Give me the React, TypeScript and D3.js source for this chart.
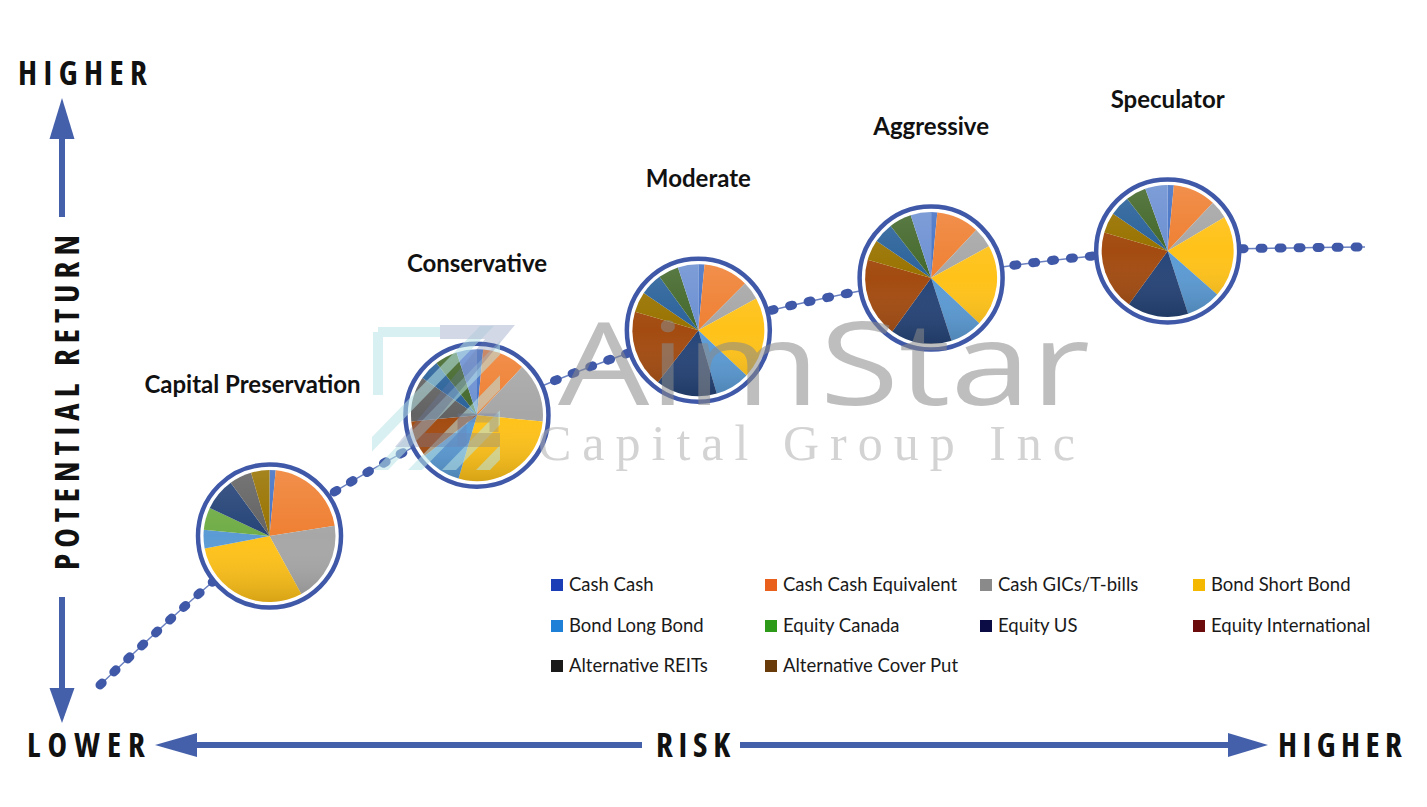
import React from 'react';
import * as d3 from 'd3';

// risk profiles along the curve
const profiles = ['Capital Preservation', 'Conservative', 'Moderate', 'Aggressive', 'Speculator'];
const riskValues = [13.4, 29.8, 47.3, 65.7, 84.4];
const returnValues = [34, 61.6, 81, 92.9, 99.1];
const lineRisk = [0, ...riskValues, 100];
const lineReturn = [0, ...returnValues, 100];

// slice shares (%) per profile, in the workbook's series order
const capitalPreservation = [1.5, 21, 19.5, 30, 4.5, 5.5, 8, 0, 5.5, 4.5, 0, 0, 0];
const conservative = [1.5, 10.5, 14.5, 28, 10, 0, 0, 9, 11, 0, 5, 5.5, 5];
const moderate = [1.5, 11, 4.5, 20, 8.5, 0, 15, 19, 0, 5, 5.5, 5, 5];
const aggressive = [1.5, 10.5, 5, 20, 8, 0, 15, 19.5, 0, 5, 5, 5.5, 5];
const speculator = [1.5, 10.5, 4.5, 20, 8.5, 0, 15, 19.5, 0, 5, 5, 5, 5.5];
const allocations = [capitalPreservation, conservative, moderate, aggressive, speculator];

const sliceColors = ['#4472C4', '#EF8033', '#A7A7A7', '#FFC219', '#5B9BD5', '#70AD47', '#264478',
  '#A34B10', '#636363', '#997300', '#2A629A', '#43682B', '#6C90D2'];

const legendLabels = ['Cash Cash', 'Cash Cash Equivalent', 'Cash GICs/T-bills', 'Bond Short Bond',
  'Bond Long Bond', 'Equity Canada', 'Equity US', 'Equity International',
  'Alternative REITs', 'Alternative Cover Put'];
const legendColors = ['#1b3db5', '#e8601c', '#8a8a8a', '#f5b800', '#1f80d8', '#2e9a1a', '#0b0b45',
  '#6b0b0b', '#1a1a1a', '#6a3b0a'];

const W = 1427;
const H = 807;
const BLUE = '#4560ab';
const DOT = '#3f58a8';

export default function App() {
  const x = d3.scaleLinear().domain([0, 100]).range([100, 1365]);
  const y = d3.scaleLinear().domain([0, 100]).range([685, 247]);

  const curve = d3.line<number>()
    .x((d, i) => x(lineRisk[i]))
    .y(d => y(d))
    .curve(d3.curveMonotoneX)(lineReturn) || '';

  const pie = d3.pie<number>().sort(null).value(d => d);
  const arc = d3.arc<d3.PieArcDatum<number>>().innerRadius(0).outerRadius(66);

  const legendCols = [551, 765, 980, 1193];
  const legendRows = [585, 626, 666];

  const axisFont = {
    fontFamily: '"Open Sans", sans-serif', fontWeight: 700, fontSize: 33,
    fontStretch: 'condensed', fill: '#111',
  };

  return (
    <svg width={W} height={H} style={{ position: 'absolute', left: 0, top: 0, background: '#fff' }}>
      <defs>
        <linearGradient id="shade" x1="0" y1="0" x2="0" y2="1">
          <stop offset="0" stopColor="#fff" stopOpacity={0.12} />
          <stop offset="0.5" stopColor="#fff" stopOpacity={0} />
          <stop offset="1" stopColor="#000" stopOpacity={0.16} />
        </linearGradient>
        <clipPath id="logoClip">
          <rect x={372} y={326} width={128} height={144} />
        </clipPath>
      </defs>
      <rect width={W} height={H} fill="#fff" />

      {/* dotted risk/return curve */}
      <path d={curve} fill="none" stroke="#6a80c0" strokeWidth={1.5} />
      <path d={curve} fill="none" stroke={DOT} strokeWidth={9} strokeDasharray="3 16" strokeLinecap="round" />

      {/* pies */}
      {allocations.map((vals, p) => {
        const cx = x(riskValues[p]);
        const cy = y(returnValues[p]);
        return (
          <g key={profiles[p]} transform={`translate(${cx},${cy})`}>
            <circle r={72} fill="#fff" />
            {pie(vals).map((s, i) => s.value > 0 && (
              <path key={i} d={arc(s) || ''} fill={sliceColors[i]} />
            ))}
            <circle r={66} fill="url(#shade)" />
            <circle r={71.5} fill="none" stroke={DOT} strokeWidth={4.5} />
            <text x={p === 0 ? -17 : 0} y={-143} textAnchor="middle"
              style={{ fontFamily: 'Lato, sans-serif', fontWeight: 700, fontSize: 24, fill: '#111' }}>
              {profiles[p]}
            </text>
          </g>
        );
      })}

      {/* watermark */}
      <g opacity={0.55}>
        <g clipPath="url(#logoClip)">
          {[0, 1, 2, 3, 4].map(k => (
            <path key={k} d={`M${340 + k * 34},470 L${354 + k * 34},470 L${494 + k * 34},326 L${480 + k * 34},326 Z`}
              fill="#b9e4e6" />
          ))}
          <path d="M378,332 L440,332 M378,332 L378,395" stroke="#b9e4e6" strokeWidth={10} fill="none" />
        </g>
        <path d="M440,332 L500,332 L410,440 L500,440" stroke="#6d7fae" strokeWidth={14} fill="none" opacity={0.55} />
        <path d="M462,446 L462,418 L494,418 L494,432" stroke="#6d7fae" strokeWidth={9} fill="none" opacity={0.55} />
        <text x={558} y={405} textLength={532} lengthAdjust="spacingAndGlyphs"
          style={{ fontFamily: '"Open Sans", sans-serif', fontWeight: 400, fontSize: 116, fill: '#8a8a8a' }}>
          AimStar
        </text>
        <text x={538} y={460} textLength={537} lengthAdjust="spacing"
          style={{ fontFamily: '"Liberation Serif", serif', fontWeight: 400, fontSize: 50, fill: '#b0b0b0' }}>
          Capital Group Inc
        </text>
      </g>

      {/* legend */}
      {legendLabels.map((label, i) => {
        const lx = legendCols[i % 4];
        const ly = legendRows[Math.floor(i / 4)];
        return (
          <g key={label}>
            <rect x={lx} y={ly - 6} width={12} height={12} fill={legendColors[i]} />
            <text x={lx + 18} y={ly + 6}
              style={{ fontFamily: 'Lato, sans-serif', fontSize: 18.5, fill: '#1a1a1a' }}>{label}</text>
          </g>
        );
      })}

      {/* vertical axis */}
      <text x={18} y={85} textLength={129} lengthAdjust="spacing" style={axisFont}>HIGHER</text>
      <rect x={59} y={134} width={6} height={83} fill={BLUE} />
      <polygon points="62,98 49.5,139 74.5,139" fill={BLUE} />
      <text transform="translate(79,570) rotate(-90)" textLength={335} lengthAdjust="spacing"
        style={axisFont}>POTENTIAL RETURN</text>
      <rect x={59} y={597} width={6} height={93} fill={BLUE} />
      <polygon points="49.5,688 74.5,688 62,723" fill={BLUE} />

      {/* horizontal axis */}
      <text x={27} y={757} textLength={118} lengthAdjust="spacing" style={axisFont}>LOWER</text>
      <polygon points="155,745 197,733 197,757" fill={BLUE} />
      <rect x={196} y={742} width={446} height={6} fill={BLUE} />
      <text x={656} y={757} textLength={74} lengthAdjust="spacing" style={axisFont}>RISK</text>
      <rect x={740} y={742} width={490} height={6} fill={BLUE} />
      <polygon points="1228,733 1228,757 1268,745" fill={BLUE} />
      <text x={1278} y={757} textLength={124} lengthAdjust="spacing" style={axisFont}>HIGHER</text>
    </svg>
  );
}
